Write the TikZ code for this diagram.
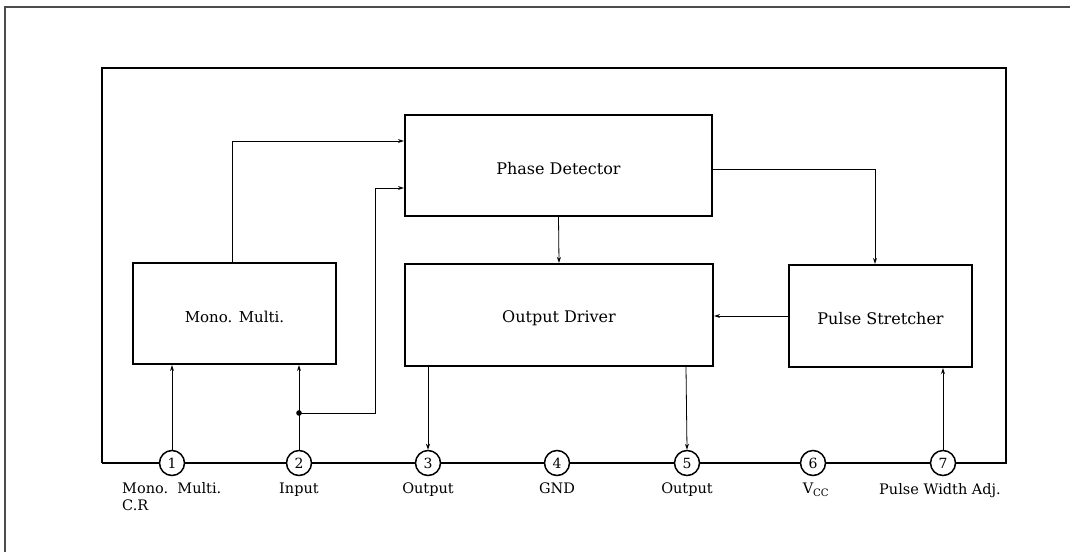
\documentclass[tikz,border=0pt]{standalone}
\usepackage{fontspec}
\setmainfont{DejaVu Serif}
\usetikzlibrary{arrows.meta}
\tikzset{
  blk/.style={draw, line width=2.2pt, inner sep=0pt},
  conn/.style={line width=0.8pt, -{Stealth[length=6pt,width=4pt]}},
  pin/.style={draw, circle, line width=1.5pt, fill=white, minimum size=25pt, inner sep=0pt, font=\fontsize{14}{14}\selectfont},
  lbl/.style={font=\fontsize{14.5}{17}\selectfont, inner sep=0pt, text=black},
  blbl/.style={font=\fontsize{16}{16}\selectfont, inner sep=0pt, text=black, yshift=-3pt},
}
\begin{document}
\begin{tikzpicture}[x=1pt,y=-1pt]
\useasboundingbox (0,0) rectangle (1089,552);
% outer page frame
\draw[line width=1.3pt, black!70] (1070,7) -- (5,7) -- (5,552);
% chip outline
\draw[line width=2.8pt] (102,463) -- (102,68) -- (1006,68) -- (1006,463) -- (102,463);
% blocks
\node[blk, minimum width=203pt, minimum height=101pt] (mm) at (234.5,313.5) {};
\node[blbl, font=\fontsize{15}{15}\selectfont] at (mm.center) {Mono. Multi.};
\node[blk, minimum width=307pt, minimum height=101pt] (pd) at (558.5,165.5) {};
\node[blbl] at (pd.center) {Phase Detector};
\node[blk, minimum width=308pt, minimum height=102pt] (od) at (559,315) {};
\node[blbl] at (od.center) {Output Driver};
\node[blk, minimum width=183pt, minimum height=102pt] (ps) at (880.5,316) {};
\node[blbl] at (ps.center) {Pulse Stretcher};
% pins
\node[pin] (p1) at (172,463) {1};
\node[pin] (p2) at (299,463) {2};
\node[pin] (p3) at (428,463) {3};
\node[pin] (p4) at (557,463) {4};
\node[pin] (p5) at (687,463) {5};
\node[pin] (p6) at (813,463) {6};
\node[pin] (p7) at (943,463) {7};
% pin labels
\node[lbl, anchor=north west, align=left] (l1) at (122,482) {Mono.\ \ Multi.\\C.R};
\node[lbl, anchor=north] (l2) at (299,483) {Input};
\node[lbl, anchor=north] (l3) at (428,483) {Output};
\node[lbl, anchor=north] (l4) at (557,483) {GND};
\node[lbl, anchor=north] (l5) at (687,483) {Output};
\node[lbl, anchor=north] (l6) at (816,483) {V$_{\mathrm{CC}}$};
\node[lbl, anchor=north] (l7) at (940,483) {Pulse Width Adj.};
% connectors
\coordinate (j) at (299,413);
\draw[conn] (p1.north) -- (p1.north |- mm.south);
\draw[conn] (p2.north) -- (p2.north |- mm.south);
\fill (j) circle (2.8pt);
\draw[conn] (j) -- (375,413) -- (375,188) -- (pd.west |- 0,188);
\draw[conn] (232,263) -- (232,141) -- (pd.west |- 0,141);
\draw[conn] (pd.south) -- (od.north);
\draw[conn] (pd.east |- 0,169) -- (875,169) -- (ps.north -| 875,0);
\draw[conn] (ps.west |- 0,316) -- (od.east |- 0,316);
\draw[conn] (od.south -| p3) -- (p3.north);
\draw[conn] (od.south -| 686,0) -- (p5.north);
\draw[conn] (p7.north) -- (p7.north |- ps.south);
\end{tikzpicture}
\end{document}
